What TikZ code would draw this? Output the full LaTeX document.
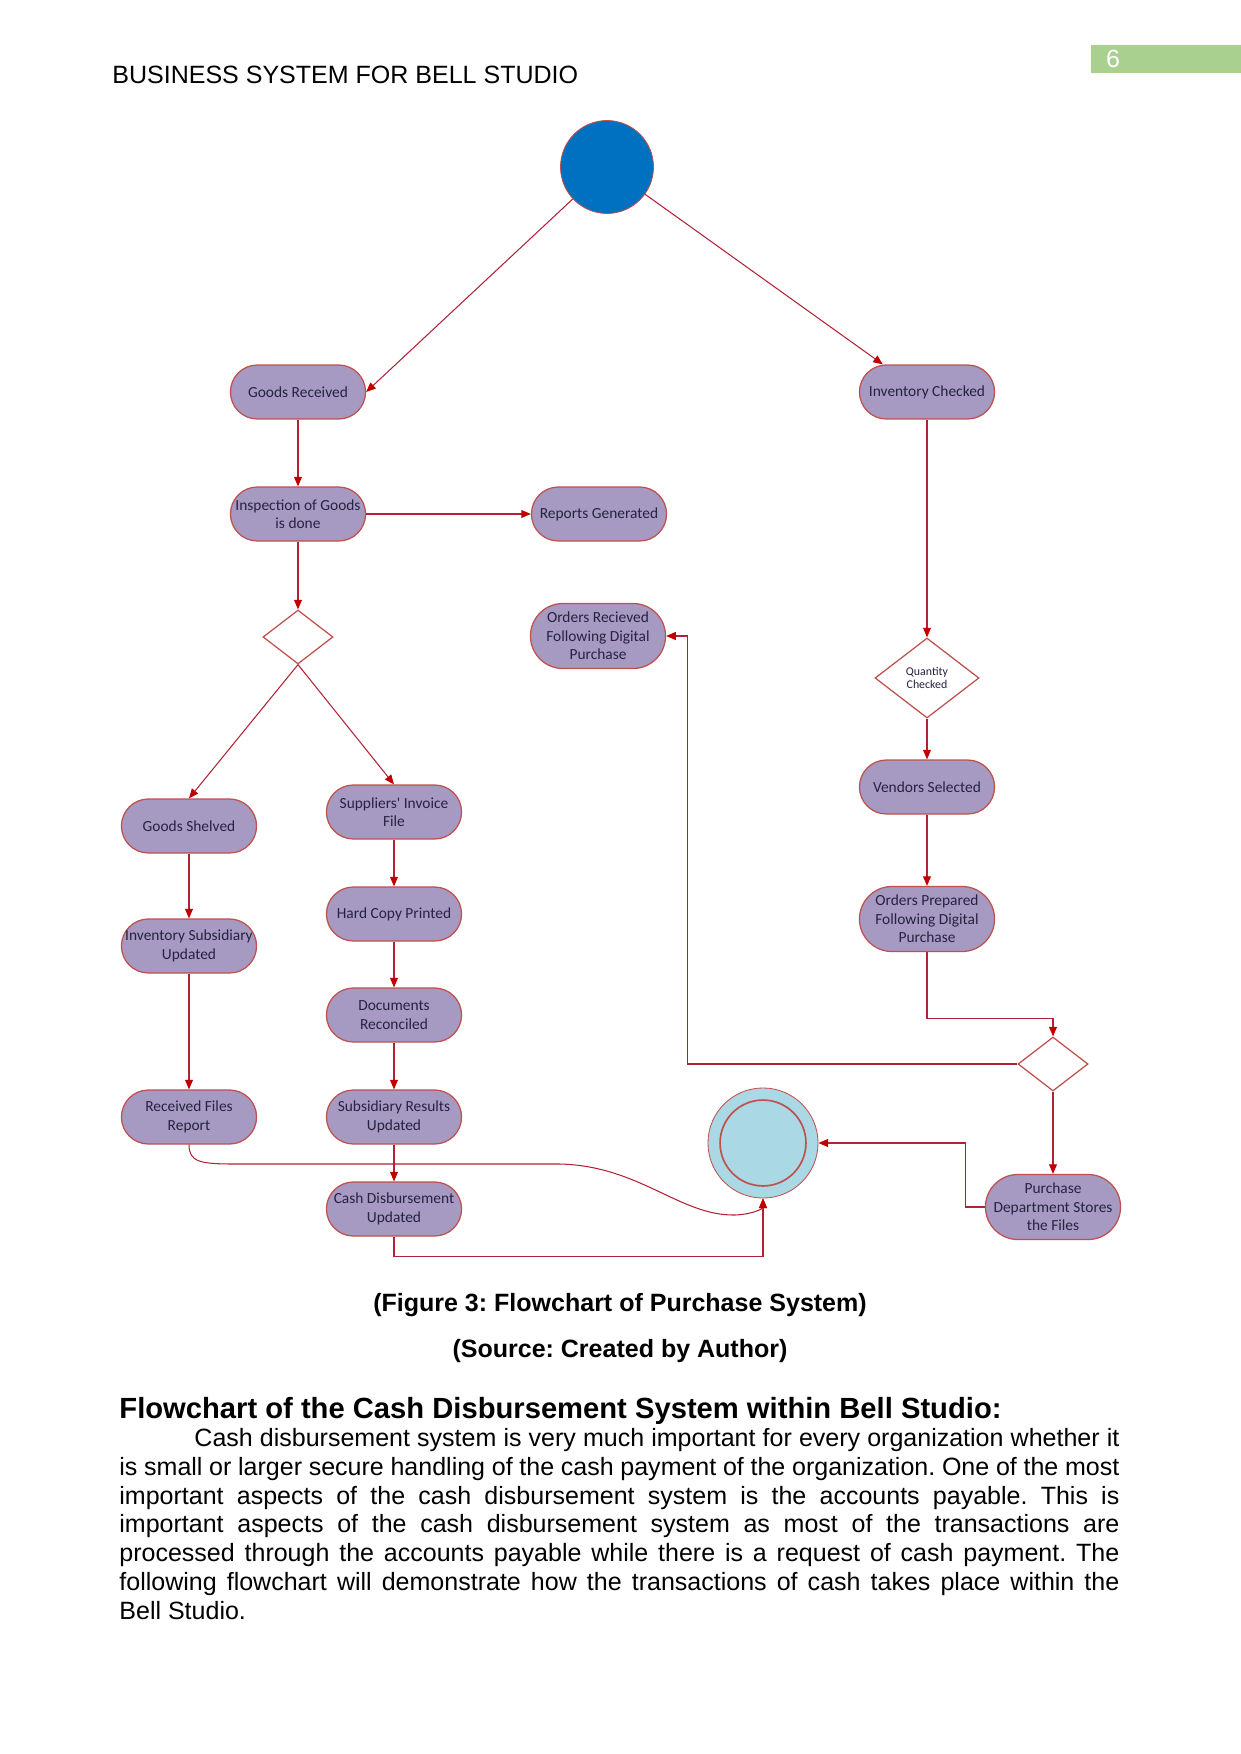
\documentclass[tikz,border=0pt]{standalone}
\usepackage{fontspec}
\setmainfont{Liberation Sans}
\newfontfamily\boxfont{Carlito}
\usetikzlibrary{arrows.meta, shapes.geometric, positioning}
\frenchspacing

\definecolor{boxfill}{RGB}{166,154,194}
\definecolor{boxline}{RGB}{192,80,77}
\definecolor{linkred}{RGB}{178,34,52}
\definecolor{tipred}{RGB}{192,0,0}
\definecolor{startblue}{RGB}{0,112,192}
\definecolor{endblue}{RGB}{170,216,228}
\definecolor{pagegreen}{RGB}{169,208,142}
\definecolor{boxtext}{RGB}{38,34,64}

\begin{document}
\begin{tikzpicture}[
x=0.4797pt, y=-0.4797pt,
box/.style={draw=boxline, fill=boxfill, rectangle, rounded corners=12.9pt, align=center, minimum width=64.8pt, minimum height=25.9pt, inner xsep=1pt, inner ysep=2pt, text=boxtext, line width=0.6pt, font=\boxfont\fontsize{7.4}{8.8}\selectfont},
tallbox/.style={box, minimum height=31.2pt, rounded corners=15.6pt},
decision/.style={draw=boxline, fill=white, diamond, minimum width=33.6pt, minimum height=25.9pt, inner sep=0pt, line width=0.6pt},
arrow/.style={-{Triangle[length=4.6pt, width=3.8pt, color=tipred]}, draw=linkred, line width=0.5pt}
]

\useasboundingbox (0,0) rectangle (1241,1754);
\fill[white] (0,0) rectangle (1241,1754);

\fill[pagegreen] (1091,45) rectangle (1241,73);
\node[text=white, font=\fontsize{12}{14}\selectfont] (pagenum) at (1113,59) {6};
\node[anchor=base west, inner sep=0pt, font=\fontsize{12}{14}\selectfont] (header) at (112,84)
{BUSINESS SYSTEM FOR BELL STUDIO};

\node[circle, draw=boxline, fill=startblue, minimum size=44.6pt, inner sep=0pt] (start) at (607,167) {};

\node[box] (goods) at (298,392)
{Goods Received};

\node[box] (inventory) at (927,392)
{Inventory Checked};

\node[box] (inspect) at (298,514)
{Inspection of Goods\\
is done};

\node[box] (reports) at (599,514)
{Reports Generated};

\node[decision] (split) at (298,637) {};

\node[tallbox] (ordersin) at (598,636)
{Orders Recieved\\
Following Digital\\
Purchase};

\node[decision, minimum width=49.9pt, minimum height=38.4pt, font=\boxfont\fontsize{5.7}{6.5}\selectfont, align=center, text=boxtext] (quantity) at (927,678)
{Quantity\\
Checked};

\node[box] (vendors) at (927,787)
{Vendors Selected};

\node[box] (shelved) at (189,826)
{Goods Shelved};

\node[box] (invoice) at (394,812)
{Suppliers' Invoice\\
File};

\node[box] (hardcopy) at (394,914)
{Hard Copy Printed};

\node[tallbox] (ordersout) at (927,919)
{Orders Prepared\\
Following Digital\\
Purchase};

\node[box] (subsid) at (189,946)
{Inventory Subsidiary\\
Updated};

\node[box] (docs) at (394,1015)
{Documents\\
Reconciled};

\node[decision] (merge) at (1053,1064) {};

\node[box] (filesrep) at (189,1117)
{Received Files\\
Report};

\node[box] (results) at (394,1117)
{Subsidiary Results\\
Updated};

\node[circle, draw=boxline, fill=endblue, minimum size=52.8pt, inner sep=0pt] (finish) at (763,1143) {};
\draw[boxline, line width=0.8pt] (finish.center) circle[radius=20.6pt];

\node[tallbox] (stores) at (1053,1207)
{Purchase\\
Department Stores\\
the Files};

\node[box] (cash) at (394,1209)
{Cash Disbursement\\
Updated};

\draw[arrow] (start) -- (goods.east);
\draw[arrow] (start) -- (inventory.148);
\draw[arrow] (goods) -- (inspect);
\draw[arrow] (inspect) -- (reports);
\draw[arrow] (inspect) -- (split);
\draw[arrow] (split.south) -- (shelved.north);
\draw[arrow] (split.south) -- (invoice.north);
\draw[arrow] (shelved) -- (subsid);
\draw[arrow] (subsid) -- (filesrep);
\draw[arrow] (invoice) -- (hardcopy);
\draw[arrow] (hardcopy) -- (docs);
\draw[arrow] (docs) -- (results);
\draw[arrow] (results) -- (cash);
\draw[arrow] (inventory) -- (quantity);
\draw[arrow] (quantity) -- (vendors);
\draw[arrow] (vendors) -- (ordersout);
\draw[arrow] (ordersout.south) -- ++(0,66) -| (merge.north);
\draw[arrow] (merge.west) -| ([xshift=10.3pt]ordersin.east) -- (ordersin.east);
\draw[arrow] (merge) -- (stores);
\draw[arrow] (stores.west) -| ([xshift=70.5pt]finish.east) -- (finish.east);
\draw[arrow] (cash.south) -- ++(0,20) -| (finish.south);
\draw[arrow] (filesrep.south) .. controls (189,1162) and (200,1164) .. (235,1164) -- (560,1164) .. controls (640,1166) and (680,1216) .. (735,1215) .. controls (755,1214) and (763,1208) .. (finish.south);

\node[font=\bfseries\fontsize{12}{14}\selectfont] (figcap) at (620,1305)
{(Figure 3: Flowchart of Purchase System)};
\node[font=\bfseries\fontsize{12}{14}\selectfont] (source) at (620,1351)
{(Source: Created by Author)};

\node[anchor=base west, inner sep=0pt, font=\bfseries\fontsize{14}{16}\selectfont] (heading) at (119,1418)
{Flowchart of the Cash Disbursement System within Bell Studio:};

\node[anchor=north west, inner sep=0pt, text width=479.7pt, align=justify, font=\fontsize{12}{13.8}\selectfont] (body) at (119,1428)
{\hspace*{36pt}Cash disbursement system is very much important for every organization whether it\linebreak
is small or larger secure handling of the cash payment of the organization. One of the most\linebreak
important aspects of the cash disbursement system is the accounts payable. This is\linebreak
important aspects of the cash disbursement system as most of the transactions are\linebreak
processed through the accounts payable while there is a request of cash payment. The\linebreak
following flowchart will demonstrate how the transactions of cash takes place within the\linebreak
Bell Studio.};

\end{tikzpicture}
\end{document}
